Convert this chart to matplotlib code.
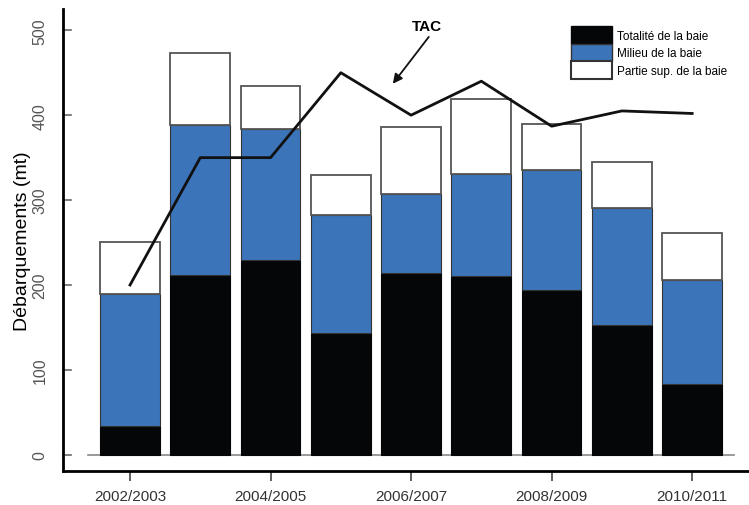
import matplotlib.pyplot as plt
from matplotlib.patches import Patch

plt.rcParams['font.family'] = ['Liberation Sans', 'DejaVu Sans']

seasons = ['2002/2003', '2003/2004', '2004/2005', '2005/2006', '2006/2007',
           '2007/2008', '2008/2009', '2009/2010', '2010/2011']
totalite = [34, 212, 229, 144, 214, 211, 194, 153, 84]
milieu = [156, 176, 155, 138, 93, 120, 142, 138, 122]
partie_sup = [61, 85, 50, 48, 79, 88, 54, 54, 55]
tac = [200, 350, 350, 450, 400, 440, 387, 405, 402]

blue = '#3c74b9'
x = list(range(len(seasons)))
bottom2 = [a + b for a, b in zip(totalite, milieu)]

fig = plt.figure(figsize=(7.49, 5.06), dpi=100)
ax = fig.add_axes([0.0841, 0.0672, 0.916, 0.913])

ax.bar(x, totalite, width=0.85, color='#050608', edgecolor='#050608', linewidth=0.8)
ax.bar(x, milieu, width=0.85, bottom=totalite, color=blue, edgecolor='#333333', linewidth=0.8)
ax.bar(x, partie_sup, width=0.85, bottom=bottom2, color='white', edgecolor='#555555', linewidth=1.3)

ax.plot(x, tac, color='#111111', linewidth=2)
ax.plot([-0.6, 8.6], [0, 0], color='#888888', linewidth=1.2, zorder=0.5)

ax.annotate('TAC', xy=(3.74, 437), xytext=(4.23, 505), ha='center', va='center',
            fontsize=11, fontweight='bold',
            arrowprops=dict(arrowstyle='-|>', color='#111111', lw=1.3,
                            mutation_scale=14, shrinkA=1, shrinkB=0,
                            relpos=(0.65, 0)))

ax.set_xlim(-0.954, 8.81)
ax.set_ylim(-19, 525)
ax.spines['top'].set_visible(False)
ax.spines['right'].set_visible(False)
ax.spines['left'].set_linewidth(2)
ax.spines['bottom'].set_linewidth(2)

ax.set_xticks(x[::2])
ax.set_xticklabels(seasons[::2], fontsize=11, color='#333333')
ax.set_yticks([0, 100, 200, 300, 400, 500])
ax.set_yticklabels(['0', '100', '200', '300', '400', '500'], rotation=90,
                   va='center', fontsize=11.5, color='#555555')
ax.tick_params(axis='x', length=7, width=1.2, color='#444444', pad=6)
ax.tick_params(axis='y', length=0, pad=11)
for v in [0, 100, 200, 300, 400, 500]:
    ax.plot([-0.954, -0.84], [v, v], color='#666666', lw=1.2, clip_on=False)
ax.set_ylabel('Débarquements (mt)', fontsize=14, labelpad=1)

handles = [Patch(facecolor='#050608', edgecolor='#050608'),
           Patch(facecolor=blue, edgecolor='#333333'),
           Patch(facecolor='white', edgecolor='#333333', linewidth=1.5)]
labels = ['Totalité de la baie', 'Milieu de la baie', 'Partie sup. de la baie']
fig.legend(handles, labels, loc='upper left', bbox_to_anchor=(0.755, 0.958),
           frameon=False, fontsize=8.5, handlelength=3.4, handleheight=1.9,
           labelspacing=0.0, handletextpad=0.5, borderpad=0)

fig.savefig('out.png', dpi=100)
